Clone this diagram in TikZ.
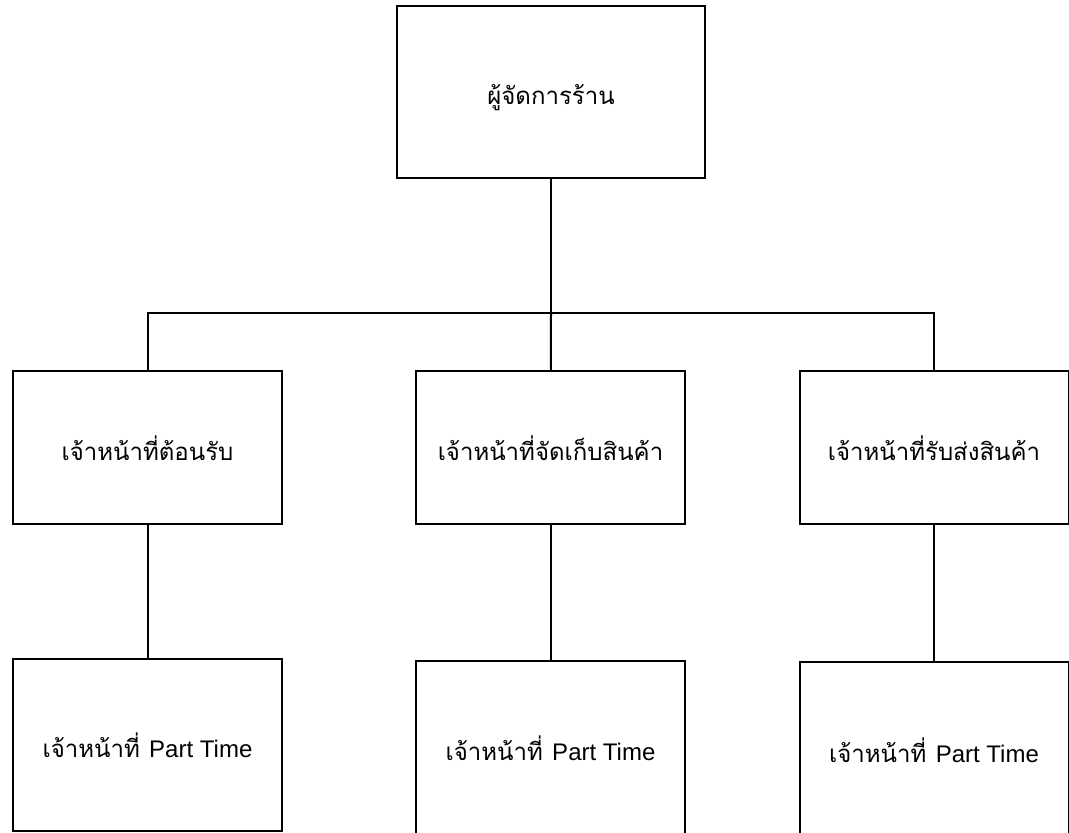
\documentclass[tikz,border=0pt]{standalone}
\usepackage{fontspec}
\newfontfamily\thaifont[Script=Thai]{Loma}
\newfontfamily\latinfont{Liberation Sans}
\begin{document}
\begin{tikzpicture}[x=0.75pt, y=-0.75pt, line width=1.5pt,
  top node/.style={rectangle,draw=black,minimum width=231pt,minimum height=129pt,inner sep=0pt,text height=19pt,text depth=0pt,font=\thaifont\fontsize{18}{21}\selectfont},
  main node/.style={rectangle,draw=black,minimum width=201.75pt,minimum height=114.75pt,inner sep=0pt,text height=19pt,text depth=0pt,font=\thaifont\fontsize{18}{21}\selectfont},
  part node/.style={rectangle,draw=black,minimum width=201.75pt,inner sep=0pt,font=\thaifont\fontsize{18}{21}\selectfont}]%
\useasboundingbox (0,0) rectangle (1069,832);
\clip (0,0) rectangle (1069,832);
\begin{scope}
\node[top node] (boss) at (551,92) {ผู้จัดการร้าน};
\node[main node] (recep) at (147.5,447.5) {เจ้าหน้าที่ต้อนรับ};
\node[main node] (store) at (550.5,447.5) {เจ้าหน้าที่จัดเก็บสินค้า};
\node[main node] (ship) at (934,447.5) {เจ้าหน้าที่รับส่งสินค้า};
\node[part node,minimum height=129pt] (ptA) at (147.5,745) {เจ้าหน้าที่\hspace{7pt}{\latinfont Part Time}};
\node[part node,minimum height=130.5pt] (ptB) at (550.5,748) {เจ้าหน้าที่\hspace{7pt}{\latinfont Part Time}};
\node[part node,minimum height=132pt] (ptC) at (934,750) {เจ้าหน้าที่\hspace{7pt}{\latinfont Part Time}};
\coordinate (bus) at (551,313);
\end{scope}
\begin{scope}[every edge/.style={draw=black,line width=1.5pt}]
\draw (boss) edge (bus);
\draw (recep) |- (bus) -| (ship);
\draw (bus) edge (store);
\draw (recep) edge (ptA);
\draw (store) edge (ptB);
\draw (ship) edge (ptC);
\end{scope}
\end{tikzpicture}
\end{document}
